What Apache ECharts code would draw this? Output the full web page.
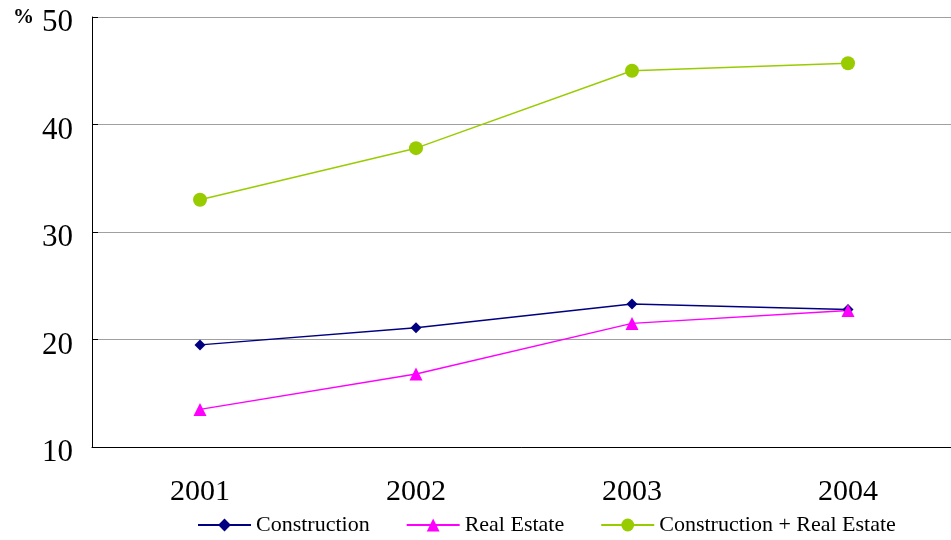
<!DOCTYPE html>
<html>
<head>
<meta charset="utf-8">
<script src="https://cdn.jsdelivr.net/npm/echarts@6/dist/echarts.min.js"></script>
<style>
  html, body { margin: 0; padding: 0; background: #fff; }
  #chart { width: 951px; height: 540px; }
</style>
</head>
<body>
<div id="chart"></div>
<script>
// 年份
var years = ['2001', '2002', '2003', '2004'];
// 数据 (%)
var construction = [19.5, 21.1, 23.3, 22.8];
var realEstate = [13.5, 16.8, 21.5, 22.7];
var combined = [33.0, 37.8, 45.0, 45.7];

var serif = '"Liberation Serif", "DejaVu Serif", serif';

var myChart = echarts.init(document.getElementById('chart'));
var option = {
    animation: false,
    textStyle: { fontFamily: serif },
    grid: {
        left: 92,
        width: 864,
        top: 17,
        height: 430,
        outerBoundsMode: 'none'
    },
    graphic: [{
        type: 'text',
        left: 13,
        top: 7,
        style: {
            text: '%',
            font: 'bold 21px ' + serif,
            fill: '#000'
        }
    }],
    legend: {
        top: 514,
        left: 197,
        padding: 0,
        itemGap: 36,
        itemWidth: 53,
        itemHeight: 16,
        textStyle: { fontSize: 22, color: '#000', fontFamily: serif },
        data: ['Construction', 'Real Estate', 'Construction + Real Estate']
    },
    xAxis: {
        type: 'category',
        data: years,
        boundaryGap: true,
        axisLine: { lineStyle: { color: '#000', width: 1 } },
        axisTick: { inside: true, length: 8, lineStyle: { color: '#000' } },
        axisLabel: { fontSize: 30, color: '#000', margin: 30, fontFamily: serif }
    },
    yAxis: {
        type: 'value',
        min: 10,
        max: 50,
        interval: 10,
        axisLine: { show: true, lineStyle: { color: '#000', width: 1 } },
        axisTick: { show: true, inside: true, length: 6, lineStyle: { color: '#000' } },
        axisLabel: {
            margin: 19,
            formatter: '{v|{value}}',
            rich: {
                v: { fontSize: 31, color: '#000', fontFamily: serif, padding: [12, 0, 0, 0] }
            }
        },
        splitLine: { lineStyle: { color: '#a0a0a0', width: 1 } }
    },
    series: [
        {
            name: 'Construction',
            type: 'line',
            data: construction,
            symbol: 'diamond',
            symbolSize: 11,
            color: '#000080',
            lineStyle: { width: 1.5 }
        },
        {
            name: 'Real Estate',
            type: 'line',
            data: realEstate,
            symbol: 'triangle',
            symbolSize: 13,
            color: '#ff00ff',
            lineStyle: { width: 1.5 }
        },
        {
            name: 'Construction + Real Estate',
            type: 'line',
            data: combined,
            symbol: 'circle',
            symbolSize: 14,
            color: '#99cc00',
            lineStyle: { width: 1.5 }
        }
    ]
};
myChart.setOption(option);
</script>
</body>
</html>
